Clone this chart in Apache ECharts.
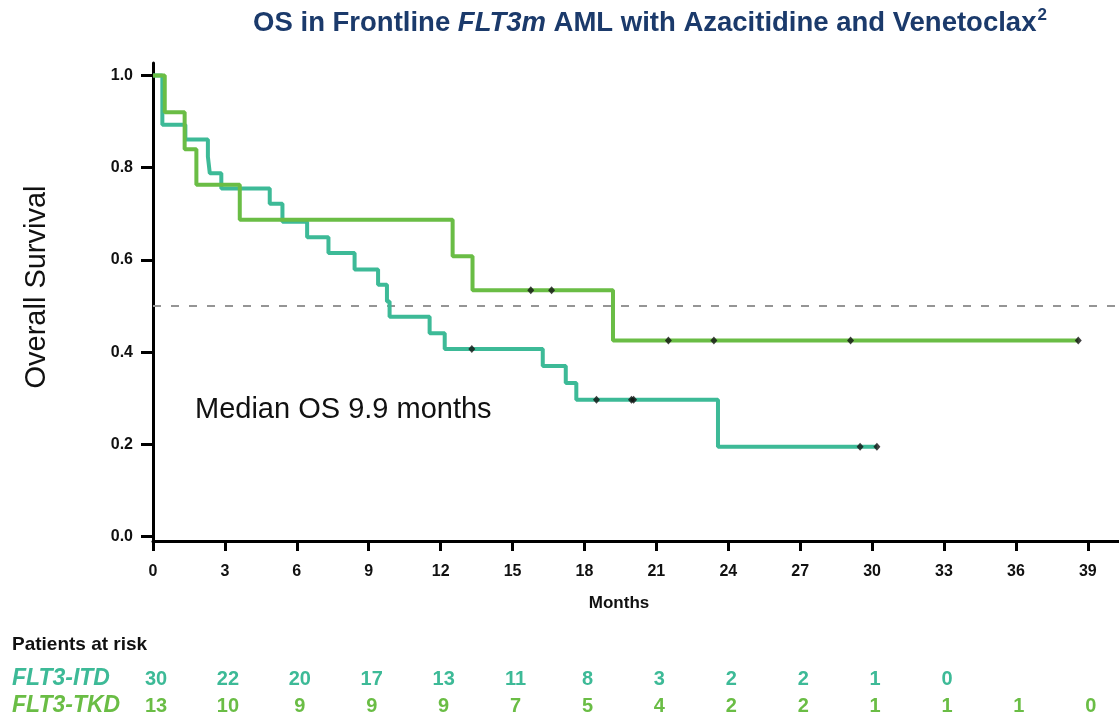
<!DOCTYPE html>
<html>
<head>
<meta charset="utf-8">
<script src="https://cdn.jsdelivr.net/npm/echarts@6/dist/echarts.min.js"></script>
<style>
  html, body { margin: 0; padding: 0; background: #ffffff; }
  #chart { width: 1119px; height: 717px; }
</style>
</head>
<body>
<div id="chart"></div>
<script>
// Axis ticks
const monthTicks = [0, 3, 6, 9, 12, 15, 18, 21, 24, 27, 30, 33, 36, 39];
const survivalTicks = [0, 0.2, 0.4, 0.6, 0.8, 1.0];

// Kaplan-Meier steps: [month, survival after the event]
const itdSteps = [
  [0, 1.0], [0.39, 0.893], [1.35, 0.861], [2.29, 0.824], [2.37, 0.788],
  [2.85, 0.755], [4.87, 0.722], [5.4, 0.683], [6.43, 0.649], [7.32, 0.615],
  [8.41, 0.579], [9.39, 0.546], [9.76, 0.510], [9.87, 0.477], [11.54, 0.441],
  [12.17, 0.407], [16.26, 0.370], [17.22, 0.333], [17.66, 0.297], [23.57, 0.195],
  [30.2, 0.195]
];
const itdCensored = [
  [13.3, 0.407], [18.5, 0.297], [19.96, 0.297], [20.05, 0.297], [29.5, 0.195], [30.2, 0.195]
];
const tkdSteps = [
  [0, 1.0], [0.49, 0.920], [1.32, 0.840], [1.81, 0.763], [3.62, 0.687],
  [12.5, 0.608], [13.33, 0.534], [19.19, 0.425], [38.6, 0.425]
];
const tkdCensored = [
  [15.76, 0.534], [16.63, 0.534], [21.5, 0.425], [23.4, 0.425], [29.1, 0.425], [38.6, 0.425]
];

// Median reference line
const medianLine = [[0, 0.5], [40.3, 0.5]];

// Patients at risk, one count per month tick
const itdAtRisk = [30, 22, 20, 17, 13, 11, 8, 3, 2, 2, 1, 0];
const tkdAtRisk = [13, 10, 9, 9, 9, 7, 5, 4, 2, 2, 1, 1, 1, 0];

const ITD_COLOR = '#3dba97';
const TKD_COLOR = '#6abd45';
const FONT = 'Arial, "Liberation Sans", sans-serif';

const chart = echarts.init(document.getElementById('chart'), null, { renderer: 'canvas' });

const option = {
  backgroundColor: '#ffffff',
  animation: false,
  title: {
    left: 645,
    top: 2,
    textAlign: 'center',
    text: '{a|OS in Frontline }{i|FLT3m}{a| AML with Azacitidine and Venetoclax}{s|2}',
    textStyle: {
      rich: {
        a: { fontFamily: FONT, fontSize: 27.5, fontWeight: 'bold', color: '#1b3a6b', lineHeight: 32 },
        i: { fontFamily: FONT, fontSize: 27.5, fontWeight: 'bold', fontStyle: 'italic', color: '#1b3a6b', lineHeight: 32 },
        s: { fontFamily: FONT, fontSize: 17, fontWeight: 'bold', color: '#1b3a6b', lineHeight: 32, verticalAlign: 'top', padding: [0, 0, 12, 1] }
      }
    }
  },
  grid: {
    left: 153,
    right: 0,
    top: 63,
    bottom: 176,
    containLabel: false,
    outerBoundsMode: 'none'
  },
  xAxis: {
    type: 'value',
    min: 0,
    max: 40.3,
    splitLine: { show: false },
    axisLine: { show: true, onZero: false, lineStyle: { color: '#000', width: 3 } },
    axisTick: { show: true, customValues: monthTicks, length: 10, lineStyle: { color: '#000', width: 3 } },
    axisLabel: {
      customValues: monthTicks,
      margin: 23,
      color: '#111',
      fontFamily: FONT,
      fontSize: 16,
      fontWeight: 'bold'
    }
  },
  yAxis: {
    type: 'value',
    min: -0.0095,
    max: 1.027,
    splitLine: { show: false },
    axisLine: { show: true, onZero: false, lineStyle: { color: '#000', width: 3 } },
    axisTick: { show: true, customValues: survivalTicks, length: 12, lineStyle: { color: '#000', width: 3 } },
    axisLabel: {
      customValues: survivalTicks,
      margin: 20,
      color: '#111',
      fontFamily: FONT,
      fontSize: 16,
      fontWeight: 'bold',
      formatter: v => v.toFixed(1)
    }
  },
  series: [
    {
      name: 'median',
      type: 'line',
      data: medianLine,
      symbol: 'none',
      lineStyle: { color: '#959595', width: 2, type: [8, 10] },
      z: 1
    },
    {
      name: 'FLT3-ITD',
      type: 'line',
      step: 'end',
      data: itdSteps,
      symbol: 'none',
      lineStyle: { color: ITD_COLOR, width: 4 },
      z: 2
    },
    {
      name: 'FLT3-TKD',
      type: 'line',
      step: 'end',
      data: tkdSteps,
      symbol: 'none',
      lineStyle: { color: TKD_COLOR, width: 4 },
      z: 3
    },
    {
      name: 'FLT3-ITD censored',
      type: 'scatter',
      data: itdCensored,
      symbol: 'diamond',
      symbolSize: [7, 8],
      itemStyle: { color: '#111' },
      z: 5
    },
    {
      name: 'FLT3-TKD censored',
      type: 'scatter',
      data: tkdCensored,
      symbol: 'diamond',
      symbolSize: [7, 8],
      itemStyle: { color: '#111' },
      z: 5
    }
  ]
};

chart.setOption(option);

// Text annotations and the patients-at-risk table, placed through the x axis scale
const graphics = [
  {
    type: 'text', x: 37, y: 287, rotation: Math.PI / 2,
    style: { text: 'Overall Survival', fontFamily: FONT, fontSize: 29, fill: '#111', textAlign: 'center', textVerticalAlign: 'middle' }
  },
  {
    type: 'text', x: 195, y: 410,
    style: { text: 'Median OS 9.9 months', fontFamily: FONT, fontSize: 29, fill: '#111', textAlign: 'left', textVerticalAlign: 'middle' }
  },
  {
    type: 'text', x: 619, y: 603,
    style: { text: 'Months', fontFamily: FONT, fontSize: 17, fontWeight: 'bold', fill: '#111', textAlign: 'center', textVerticalAlign: 'middle' }
  },
  {
    type: 'text', x: 12, y: 645,
    style: { text: 'Patients at risk', fontFamily: FONT, fontSize: 19, fontWeight: 'bold', fill: '#111', textAlign: 'left', textVerticalAlign: 'middle' }
  },
  {
    type: 'text', x: 12, y: 679,
    style: { text: 'FLT3-ITD', fontFamily: FONT, fontSize: 23, fontWeight: 'bold', fontStyle: 'italic', fill: ITD_COLOR, textAlign: 'left', textVerticalAlign: 'middle' }
  },
  {
    type: 'text', x: 12, y: 706,
    style: { text: 'FLT3-TKD', fontFamily: FONT, fontSize: 23, fontWeight: 'bold', fontStyle: 'italic', fill: TKD_COLOR, textAlign: 'left', textVerticalAlign: 'middle' }
  }
];

function addRiskRow(counts, y, color) {
  counts.forEach((n, i) => {
    const px = chart.convertToPixel({ xAxisIndex: 0 }, monthTicks[i]);
    graphics.push({
      type: 'text', x: px + 3, y: y,
      style: { text: String(n), fontFamily: FONT, fontSize: 20, fontWeight: 'bold', fill: color, textAlign: 'center', textVerticalAlign: 'middle' }
    });
  });
}
addRiskRow(itdAtRisk, 679, ITD_COLOR);
addRiskRow(tkdAtRisk, 706, TKD_COLOR);

chart.setOption({ graphic: graphics });
</script>
</body>
</html>
